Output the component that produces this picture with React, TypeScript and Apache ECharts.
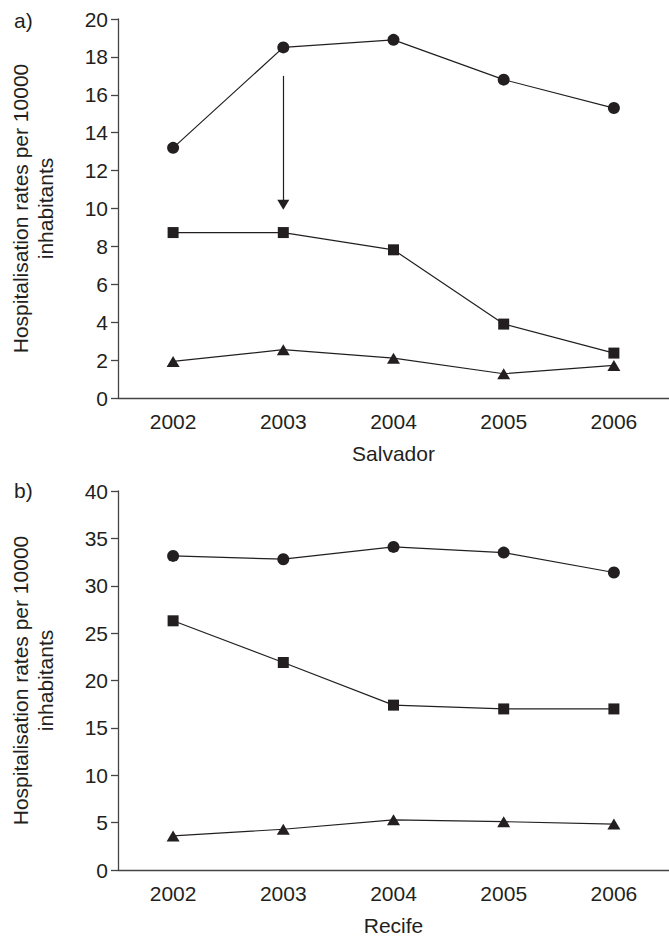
import React, { useEffect, useRef } from "react";
import * as echarts from "echarts";

const years = ["2002", "2003", "2004", "2005", "2006"];

const salvadorCircle = [13.2, 18.5, 18.9, 16.8, 15.3];
const salvadorSquare = [8.73, 8.73, 7.82, 3.9, 2.37];
const salvadorTriangle = [1.93, 2.55, 2.1, 1.28, 1.72];

const recifeCircle = [33.15, 32.8, 34.1, 33.5, 31.4];
const recifeSquare = [26.3, 21.9, 17.4, 17.0, 17.0];
const recifeTriangle = [3.6, 4.3, 5.3, 5.1, 4.85];

const arrowYear = "2003";
const arrowFrom = 17.0;
const arrowTo = 10.2;

const yTitle = "Hospitalisation rates per 10000\ninhabitants";

const INK = "#231f20";
const AXIS = "#444444";
const FONT = "'Liberation Sans', Arial, Helvetica, sans-serif";
const FS = 21;

function line(name: string, data: number[], symbol: string, size: number | number[], idx: number, extra: any = {}) {
  return {
    name,
    type: "line",
    xAxisIndex: idx,
    yAxisIndex: idx,
    data,
    symbol,
    symbolSize: size,
    showSymbol: true,
    silent: true,
    lineStyle: { color: INK, width: 1.2 },
    itemStyle: { color: INK, borderWidth: 0 },
    emphasis: { disabled: true },
    z: 3,
    ...extra,
  };
}

function xAxis(idx: number, name: string) {
  return {
    type: "category",
    gridIndex: idx,
    data: years,
    boundaryGap: true,
    name,
    nameLocation: "middle",
    nameGap: 45,
    nameTextStyle: { color: INK, fontSize: FS, fontFamily: FONT },
    axisLine: { lineStyle: { color: AXIS, width: 1.3 } },
    axisTick: { alignWithLabel: true, length: 7, lineStyle: { color: AXIS, width: 1.3 } },
    axisLabel: { color: INK, fontSize: FS, fontFamily: FONT, margin: 13 },
    splitLine: { show: false },
  };
}

function yAxis(idx: number, max: number, interval: number) {
  return {
    type: "value",
    gridIndex: idx,
    min: 0,
    max,
    interval,
    name: yTitle,
    nameLocation: "middle",
    nameGap: 60,
    nameRotate: 90,
    nameTextStyle: { color: INK, fontSize: FS, fontFamily: FONT, lineHeight: 25 },
    axisLine: { show: true, lineStyle: { color: AXIS, width: 1.3 } },
    axisTick: { show: true, length: 7, lineStyle: { color: AXIS, width: 1.3 } },
    axisLabel: { color: INK, fontSize: FS, fontFamily: FONT, margin: 10 },
    splitLine: { show: false },
  };
}

export default function App() {
  const ref = useRef<HTMLDivElement>(null);
  useEffect(() => {
    if (!ref.current) return;
    const chart = echarts.init(ref.current, null, { renderer: "svg" });
    chart.setOption({
      animation: false,
      backgroundColor: "#ffffff",
      textStyle: { fontFamily: FONT },
      grid: [
        { left: 108, top: 19, width: 561, height: 379 },
        { left: 108, top: 491, width: 561, height: 379 },
      ],
      xAxis: [xAxis(0, "Salvador"), xAxis(1, "Recife")],
      yAxis: [yAxis(0, 20, 2), yAxis(1, 40, 5)],
      graphic: [
        { type: "text", left: 14, top: 10, style: { text: "a)", fill: INK, font: `${FS}px ${FONT}` } },
        { type: "text", left: 14, top: 480, style: { text: "b)", fill: INK, font: `${FS}px ${FONT}` } },
      ],
      series: [
        line("Salvador circle", salvadorCircle, "circle", 12, 0, {
          markLine: {
            silent: true,
            symbol: ["none", "triangle"],
            symbolSize: [12, 10],
            label: { show: false },
            lineStyle: { color: INK, width: 1.2, type: "solid" },
            emphasis: { disabled: true },
            data: [[{ coord: [arrowYear, arrowFrom] }, { coord: [arrowYear, arrowTo] }]],
          },
        }),
        line("Salvador square", salvadorSquare, "rect", 11, 0),
        line("Salvador triangle", salvadorTriangle, "triangle", [13, 11], 0),
        line("Recife circle", recifeCircle, "circle", 12, 1),
        line("Recife square", recifeSquare, "rect", 11, 1),
        line("Recife triangle", recifeTriangle, "triangle", [13, 11], 1),
      ],
    });
    return () => chart.dispose();
  }, []);
  return (
    <div
      ref={ref}
      style={{ position: "absolute", left: 0, top: 0, width: 669, height: 937, background: "#fff" }}
    />
  );
}
